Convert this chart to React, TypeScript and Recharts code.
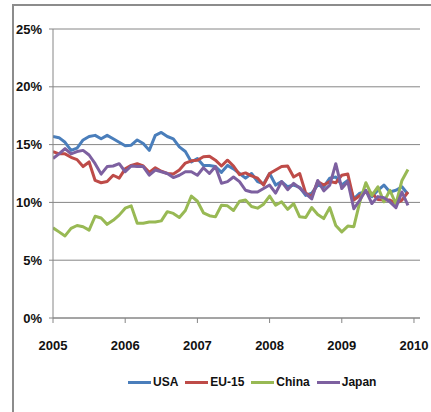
import { LineChart, Line, XAxis, YAxis, CartesianGrid, Legend } from 'recharts';

const startYear = 2005;
const yearTicks = [2005, 2006, 2007, 2008, 2009, 2010];
const percentTicks = [0, 5, 10, 15, 20, 25];

// monthly shares, Jan 2005 .. Dec 2009 (%)
const usa = [
  15.7, 15.6, 15.2, 14.5, 14.7, 15.4, 15.7, 15.8, 15.5, 15.8, 15.5, 15.2,
  14.9, 14.95, 15.4, 15.1, 14.5, 15.8, 16.05, 15.7, 15.5, 14.8, 14.4, 13.5,
  13.8, 13.2, 13.2, 13.1, 12.6, 13.2, 12.9, 12.5, 12.1, 12.5, 11.8, 11.6,
  12.5, 11.5, 11.8, 11.35, 11.5, 11.3, 10.6, 10.8, 11.5, 11.35, 12.1, 12.2,
  11.5, 11.9, 10.3, 10.8, 10.9, 10.5, 11.05, 11.5, 10.9, 11.05, 11.35, 10.7,
];
const eu15 = [
  14.4, 14.2, 14.2, 13.9, 13.7, 13.1, 13.5, 11.9, 11.7, 11.8, 12.35, 12.1,
  12.9, 13.2, 13.35, 13.15, 12.6, 13.0, 12.7, 12.5, 12.45, 12.8, 13.4, 13.6,
  13.65, 13.95, 14.0, 13.65, 13.15, 13.65, 13.15, 12.4, 12.55, 12.3, 12.1, 11.5,
  12.5, 12.8, 13.1, 13.15, 12.2, 12.5, 10.8, 10.5, 11.8, 11.5, 11.8, 11.7,
  12.35, 12.45, 10.2, 10.6, 10.9, 10.8, 10.25, 10.2, 10.2, 9.9, 10.2, 10.9,
];
const china = [
  7.8, 7.45, 7.1, 7.75, 8.0, 7.9, 7.6, 8.8, 8.65, 8.1, 8.45, 8.9,
  9.5, 9.7, 8.2, 8.2, 8.3, 8.3, 8.4, 9.2, 9.05, 8.7, 9.3, 10.55,
  10.1, 9.1, 8.85, 8.75, 9.75, 9.7, 9.3, 10.1, 10.2, 9.65, 9.5, 9.85,
  10.55, 9.75, 10.05, 9.4, 9.9, 8.75, 8.7, 9.55, 8.95, 8.6, 9.55, 8.0,
  7.45, 7.95, 7.9, 10.05, 11.7, 10.6, 11.35, 10.05, 11.05, 9.85, 11.9, 12.85,
];
const japan = [
  13.8, 14.2, 14.65, 14.2, 14.4, 14.5, 14.1, 13.35, 12.45, 13.1, 13.15, 13.35,
  12.65, 13.15, 13.1, 13.1, 12.35, 12.8, 12.65, 12.5, 12.15, 12.35, 12.65, 12.65,
  12.35, 13.0, 12.5, 13.1, 11.65, 11.8, 12.2, 11.8, 11.05, 10.9, 10.9, 11.2,
  11.5, 10.8, 11.8, 11.1, 11.65, 11.25, 10.75, 10.3, 11.9, 11.0, 11.5, 13.35,
  11.2, 11.8, 9.45, 10.2, 11.05, 9.9, 10.5, 10.4, 10.05, 9.55, 10.9, 9.75,
];

const series = [
  { key: 'usa', name: 'USA', color: '#4A7EBB' },
  { key: 'eu15', name: 'EU-15', color: '#BE4B48' },
  { key: 'china', name: 'China', color: '#98B954' },
  { key: 'japan', name: 'Japan', color: '#7D60A0' },
];

const chartData = usa.map((_, i) => ({
  t: startYear + i / 12,
  usa: usa[i],
  eu15: eu15[i],
  china: china[i],
  japan: japan[i],
}));

const font = "'Liberation Sans', Arial, sans-serif";
const axisGray = '#868686';
const tickStyle = { fontFamily: font, fontWeight: 'bold', fontSize: 13, fill: '#111' };

const LegendRow = () => (
  <div
    style={{
      display: 'flex',
      alignItems: 'center',
      whiteSpace: 'nowrap',
      fontFamily: font,
      fontWeight: 'bold',
      fontSize: 12,
      color: '#111',
    }}
  >
    {series.map((s) => (
      <div key={s.key} style={{ display: 'flex', alignItems: 'center', marginRight: 7 }}>
        <span style={{ display: 'inline-block', width: 23, height: 3, background: s.color, marginRight: 2 }} />
        <span>{s.name}</span>
      </div>
    ))}
  </div>
);

export default function App() {
  return (
    <div style={{ position: 'absolute', left: 0, top: 0, width: 431, height: 412, background: '#fff', overflow: 'hidden' }}>
      <div
        style={{
          position: 'absolute',
          left: 12,
          top: 4,
          right: -4,
          bottom: -4,
          borderLeft: '2px solid #8c8c8c',
          borderTop: '2px solid #8c8c8c',
        }}
      />
      <LineChart
        width={431}
        height={412}
        data={chartData}
        margin={{ top: 29, right: 11, left: 8, bottom: 44 }}
        style={{ position: 'absolute', left: 0, top: 0 }}
      >
        <CartesianGrid vertical={false} stroke={axisGray} strokeWidth={1} />
        <XAxis
          dataKey="t"
          type="number"
          domain={[2005, 2010 + 1 / 12]}
          ticks={yearTicks}
          allowDataOverflow
          height={50}
          tickSize={5}
          tickMargin={18}
          stroke={axisGray}
          tick={tickStyle}
          tickFormatter={(v: number) => String(Math.round(v))}
        />
        <YAxis
          domain={[0, 25]}
          ticks={percentTicks}
          width={45}
          tickSize={4}
          tickMargin={7}
          stroke={axisGray}
          tick={tickStyle}
          tickFormatter={(v: number) => `${v}%`}
        />
        <Legend
          layout="horizontal"
          verticalAlign="middle"
          align="center"
          wrapperStyle={{ top: 375, left: 128, width: 290 }}
          content={() => <LegendRow />}
        />
        {series.map((s) => (
          <Line
            key={s.key}
            type="linear"
            dataKey={s.key}
            name={s.name}
            stroke={s.color}
            strokeWidth={3}
            strokeLinejoin="round"
            dot={false}
            isAnimationActive={false}
          />
        ))}
      </LineChart>
    </div>
  );
}
